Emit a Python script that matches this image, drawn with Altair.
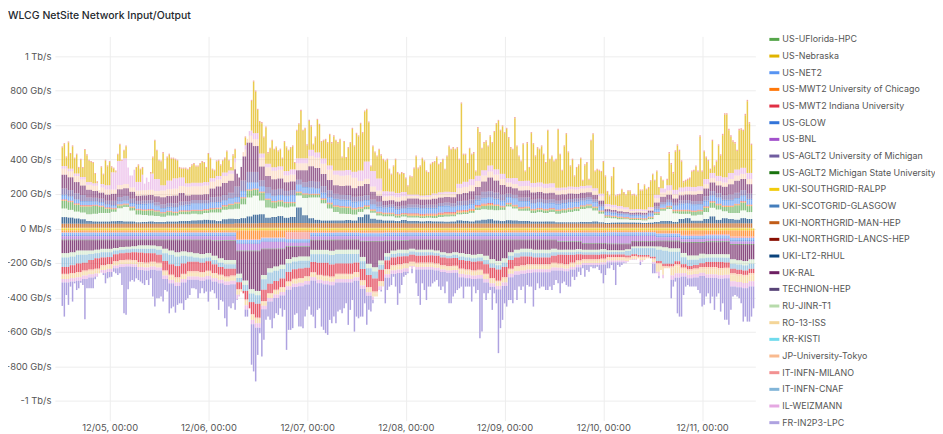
import altair as alt
import pandas as pd

alt.data_transformers.disable_max_rows()

SITES = ["US-UFlorida-HPC","US-Nebraska","US-NET2","US-MWT2 University of Chicago","US-MWT2 Indiana University","US-GLOW","US-BNL","US-AGLT2 University of Michigan","US-AGLT2 Michigan State University","UKI-SOUTHGRID-RALPP","UKI-SCOTGRID-GLASGOW","UKI-NORTHGRID-MAN-HEP","UKI-NORTHGRID-LANCS-HEP","UKI-LT2-RHUL","UK-RAL","TECHNION-HEP","RU-JINR-T1","RO-13-ISS","KR-KISTI","JP-University-Tokyo","IT-INFN-MILANO","IT-INFN-CNAF","IL-WEIZMANN","FR-IN2P3-LPC"]
COLORS = ["#56a64b","#e0b400","#5794f2","#ff780a","#e02f44","#3274d9","#a352cc","#705da0","#19730e","#f2cc0c","#447ebc","#c15c17","#890f02","#0a437c","#6d1f62","#584477","#b7dbab","#f4d598","#70dbed","#f9ba8f","#f29191","#82b5d8","#e5a8e2","#aea2e0"]

# Total height of every bar (Gb/s), read bar by bar
top_total = [476,495,418,505,438,482,411,434,357,405,357,461,430,399,391,386,322,274,222,361,318,399,366,391,361,353,337,434,492,399,457,482,353,308,308,341,357,372,347,357,260,295,270,328,418,515,457,399,395,443,347,418,434,411,411,405,399,357,353,353,353,347,357,372,380,366,366,380,391,386,357,438,411,347,341,395,399,372,399,411,453,399,357,430,463,318,295,357,443,534,520,565,746,858,800,694,623,617,534,592,443,468,515,463,476,453,463,411,507,476,457,472,482,386,573,611,688,573,584,488,630,598,492,534,636,607,507,515,520,501,549,501,540,515,501,520,418,507,415,472,
501,584,482,555,540,613,559,684,694,621,366,482,447,424,463,430,405,395,405,347,318,366,405,328,318,328,322,295,251,308,303,353,424,353,366,411,395,337,328,376,386,391,418,376,386,405,347,424,482,463,472,463,472,405,731,434,434,380,468,434,443,337,588,559,468,501,511,482,540,501,565,611,630,573,598,559,584,530,472,463,646,482,424,395,495,337,501,357,559,495,424,472,463,482,434,386,573,405,
424,395,405,578,434,341,482,553,447,366,405,308,357,372,411,283,372,386,289,515,553,337,347,341,334,391,308,218,193,303,357,193,199,202,231,212,199,222,222,199,202,193,264,226,226,256,231,241,280,318,283,337,241,303,283,231,289,443,380,328,453,488,457,395,276,283,289,295,337,341,366,337,540,337,453,418,399,347,515,366,395,488,430,549,669,669,578,540,511,501,457,578,582,573,665,746,617,492]
bottom_total = [449,511,386,443,337,424,318,357,347,314,328,526,347,347,347,347,295,280,260,256,270,318,289,283,280,251,260,270,260,328,492,501,353,308,299,308,289,299,308,318,328,299,328,289,395,453,405,405,395,424,357,366,492,463,453,488,443,434,434,472,415,405,386,347,347,353,405,376,347,376,366,424,366,357,376,405,472,415,424,521,569,453,463,434,472,415,395,366,376,511,511,463,790,829,887,733,607,742,646,530,511,530,578,521,492,501,463,511,472,704,588,588,578,501,492,569,569,578,511,472,453,501,511,578,472,463,569,588,607,617,530,549,511,549,482,472,492,463,434,559,472,
415,598,511,521,511,511,434,559,472,482,434,395,395,357,366,337,434,357,337,328,280,337,443,376,328,280,270,260,222,260,222,318,391,443,318,357,415,337,337,318,308,299,337,357,337,376,308,434,434,395,376,357,347,337,405,337,337,337,424,337,376,357,636,598,376,415,376,357,472,376,434,723,578,530,434,453,415,415,434,357,415,337,357,337,434,328,337,337,453,357,318,347,337,337,357,357,337,357,
328,299,318,376,318,308,328,337,337,280,299,280,251,270,231,280,241,251,222,231,231,222,241,260,318,270,231,231,212,241,328,212,222,212,202,202,193,183,183,183,183,173,212,193,183,173,173,173,260,260,260,289,241,289,231,231,231,405,337,308,492,511,511,386,337,328,337,337,337,337,357,376,453,443,395,376,434,395,472,395,376,482,434,530,530,559,472,395,386,395,405,434,540,511,540,540,511,463]

# Layers read at 1.5-hour, 6-hour or daily steps, from zero outward
up_ralpp = [4,4,4,4,4,4,4,4]
up_lancs = [2,2,2,3,3,2,2,2]
up_man = [22,22,22,22,22,22,22,24,26,26,24,24,24,24,22,22,22,22,22,22,22,22,20,20,22,24,24,24]
up_rhul = [38,35,30,25,15,12,12,12,14,15,12,12,8,10,12,10,10,12,12,15,15,18,20,22,20,15,25,28,25,30,40,50,50,30,35,40,30,35,90,45,30,20,15,15,15,15,18,15,35,50,25,20,15,15,12,18,15,15,12,14,12,12,10,12,18,15,12,18,22,25,18,15,20,18,15,15,12,12,12,12,8,8,8,8,10,10,12,8,6,8,8,8,8,8,6,8,10,15,15,10,25,30,15,15,25,40,20,30,25,20,30,25]
up_jinr = [50,45,40,40,40,45,50,50,55,75,85,65,45,40,35,35,30,35,35,40,40,40,35,40,45,50,55,55,60,80,110,110,80,60,50,55,60,60,70,100,120,130,100,70,50,40,35,35,30,30,35,25,25,25,20,20,20,20,20,20,20,25,30,30,35,40,50,60,60,55,60,65,80,70,60,60,50,55,50,55,50,55,60,65,75,80,65,50,30,25,20,20,15,15,15,20,40,60,70,50,30,25,30,35,40,50,60,40,35,40,45,40]
up_florida = [45,45,40,35,45,45,35,25,15,15,12,15,25,25,30,25,20,20,15,15,15,15,18,15,18,20,20,25,30,35,40,35,45,45,35,30,25,20,15,20,15,15,20,25,30,35,35,30,20,15,12,12,12,12,12,12,10,10,10,10,12,12,12,10,10,10,10,15,20,25,25,15,12,12,12,15,15,15,15,15,15,15,15,15,15,15,15,12,8,8,8,6,6,6,6,8,10,10,10,12,15,15,20,20,25,30,25,25,35,45,45,35]
up_chicago = [4,4,4,5,8,5,4,5]
up_indiana = [4,4,3,4,6,4,3,4]
up_net2 = [20,18,15,15,15,12,12,10,8,8,10,12,20,25,25,20,15,15,18,20,25,30,30,25,25,25,20,25,25,30,35,30,25,25,25,25,30,35,35,30,30,25,25,25,30,30,30,28,25,22,20,22,22,25,22,20,25,25,25,25,25,30,30,25,20,20,20,22,25,25,25,22,25,30,28,25,25,25,25,22,25,25,25,22,20,20,20,15,10,10,8,8,8,8,8,10,12,12,12,18,28,30,28,25,25,25,28,25,25,25,25,25]
up_glow = [8,8,6,8,8,8,8,8]
up_aglt2 = [35,20,25,18,22,18,30,60,35,28,38,28,28,14,18,18,25,35,20,20,18,14,5,5,14,18,25,30]
up_ral = [80,75,65,55,45,40,35,35,40,45,45,40,30,30,30,35,40,40,45,50,35,30,30,35,50,60,70,70,100,140,170,150,80,65,60,60,50,50,55,70,85,80,70,60,50,50,55,50,60,65,45,35,25,25,28,30,35,35,32,30,35,32,32,35,40,45,48,50,60,80,70,55,40,38,40,42,42,40,38,38,35,32,32,28,30,28,25,20,12,10,10,8,8,10,10,12,22,30,30,25,30,32,38,40,45,50,45,50,60,70,65,55]
up_tokyo = [35,30,25,30,40,50,40,40,50,40,60,60,30,25,15,20,35,35,25,30,25,25,15,10,25,20,25,30]
up_weizmann = [15,15,15,15,15,15,20,25,100,140,150,120,50,90,95,70,30,50,60,50,20,20,20,20,20,20,20,20,25,25,30,35,25,20,20,20,25,30,30,30,35,30,30,25,25,30,30,35,60,100,90,70,30,25,25,25,8,8,8,10,10,10,10,10,25,30,35,30,30,35,30,30,25,35,30,30,25,25,25,25,15,15,15,15,15,15,15,15,15,15,15,12,10,10,10,10,20,25,30,25,25,25,25,25,30,30,30,30,35,35,35,35]
up_milano = [6,6,6,6,6,6,6,8]

dn_ralpp = [12,12,12,12,12,12,12,12]
dn_chicago = [10,10,10,10,10,10,10,50,40,10,10,10,12,10,10,10,10,10,10,10,10,10,8,8,15,25,20,35]
dn_milano = [3,3,3,3,3,3,3,5,5,40,4,3,3,3,3,3,3,3,3,3,3,3,3,3,4,6,8,8]
dn_net2 = [12,12,12,12,12,12,12,14,12,12,12,12,12,12,12,12,12,12,12,12,12,12,12,12,12,12,12,12]
dn_glow = [8,8,8,8,8,8,8,8,8,8,8,8]
dn_bnl = [20,20,20,20,20,20,25,40,40,22,20,20,25,25,20,20,20,20,20,20,30,40,45,30,20,15,15,15]
dn_msu = [3,3,3,3,3,3,3,4]
dn_ral = [75,70,60,60,60,55,50,50,45,40,38,35,30,30,30,35,50,60,70,65,70,75,80,75,85,100,110,110,130,170,220,230,150,110,100,90,70,60,55,55,55,55,55,60,55,55,55,55,90,130,150,110,70,55,50,50,50,55,55,55,60,70,75,70,75,80,85,80,90,110,120,105,70,55,50,50,55,55,55,50,45,45,45,42,35,35,35,32,35,35,35,30,28,28,28,28,30,35,40,40,60,75,75,65,70,70,70,70,85,90,95,85]
dn_jinr = [25,20,15,20,25,25,25,25,25,25,25,25,25,20,15,15,20,25,20,20,15,15,10,10,20,25,20,25]
dn_cnaf = [55,50,50,45,35,30,30,28,22,20,20,20,22,25,25,30,45,55,55,45,30,25,25,22,25,25,25,25,25,35,50,50,60,65,60,55,50,45,45,40,45,50,50,55,55,55,55,50,45,40,40,30,22,20,20,18,20,20,20,18,15,15,15,18,20,20,20,22,25,25,25,25,25,25,25,25,25,25,25,20,15,15,15,15,15,15,15,15,15,15,15,25,35,40,40,50,65,75,70,55,40,35,30,30,25,25,25,28,30,30,30,30]
dn_indiana = [40,45,50,45,55,60,45,40,40,40,40,45,55,55,50,45,55,60,65,60,55,55,55,55,50,45,45,40,40,50,70,80,65,55,50,50,55,55,55,50,60,70,75,70,60,60,60,55,65,70,75,65,50,45,45,40,40,40,40,42,45,45,45,45,50,50,50,50,55,60,65,60,50,50,50,45,40,40,40,40,50,55,45,35,25,25,25,25,15,15,15,12,10,10,10,10,12,15,15,18,20,20,20,22,30,30,35,30,25,25,25,25]
dn_tokyo = [10,10,8,10,10,10,10,12]
dn_ro13 = [20,18,15,18,20,20,20,25,20,20,20,20,20,20,15,15,20,20,20,18,15,12,10,10,40,20,30,35]
dn_weiz = [20,18,15,18,20,20,20,25,20,20,20,20,20,20,15,15,20,20,20,18,15,12,10,10,25,20,20,30]

# site, values, fill opacity: listed from zero outward; the outer layer takes what is left of the total
UP = [("UKI-SOUTHGRID-RALPP",up_ralpp,.8),("UKI-NORTHGRID-LANCS-HEP",up_lancs,.7),("UKI-NORTHGRID-MAN-HEP",up_man,.8),("UKI-LT2-RHUL",up_rhul,.75),("RU-JINR-T1",up_jinr,.18),("US-UFlorida-HPC",up_florida,.7),("US-MWT2 University of Chicago",up_chicago,.7),("US-MWT2 Indiana University",up_indiana,.7),("US-NET2",up_net2,.75),("US-GLOW",up_glow,.7),("US-AGLT2 University of Michigan",up_aglt2,.75),("UK-RAL",up_ral,.7),("JP-University-Tokyo",up_tokyo,.45),("IL-WEIZMANN",up_weizmann,.65)]
DOWN = [("UKI-SOUTHGRID-RALPP",dn_ralpp,.85),("US-MWT2 University of Chicago",dn_chicago,.75),("IT-INFN-MILANO",dn_milano,.85),("US-NET2",dn_net2,.7),("US-GLOW",dn_glow,.7),("US-BNL",dn_bnl,.7),("US-AGLT2 Michigan State University",dn_msu,.85),("UK-RAL",dn_ral,.8),("RU-JINR-T1",dn_jinr,.5),("IT-INFN-CNAF",dn_cnaf,.75),("US-MWT2 Indiana University",dn_indiana,.8),("JP-University-Tokyo",dn_tokyo,.7),("RO-13-ISS",dn_ro13,.8),("IL-WEIZMANN",dn_weiz,.75)]

start = pd.Timestamp("2023-12-04 12:30:00", tz="UTC")
rows = []

def add(totals, layers, outer, sign, cap, a_out):
    for i, total in enumerate(totals):
        t = (start + pd.Timedelta(minutes=30 * i)).isoformat()
        left = total
        o = 0
        for site, vals, a in layers:
            v = min(vals[i * len(vals) // len(totals)], left)
            left -= v
            if v > 0:
                rows.append((t, site, sign * v, o, a))
            o += 1
        c = min(cap[i * len(cap) // len(totals)], left) if outer[1] else 0
        rows.append((t, outer[0], sign * (left - c), o, a_out))
        if c > 0:
            rows.append((t, outer[1], sign * c, o + 1, .85))

add(top_total, UP, ("US-Nebraska", "IT-INFN-MILANO"), 1, up_milano, .7)
add(bottom_total, DOWN, ("FR-IN2P3-LPC", None), -1, [0], 1)
df = pd.DataFrame(rows, columns=["t", "site", "v", "o", "a"])

GRID = "#ededed"
TICKS = [-1000, -800, -600, -400, -200, 0, 200, 400, 600, 800, 1000]
LABEL_EXPR = "datum.value==0?'0 Mb/s':(abs(datum.value)>=1000?(datum.value/1000)+' Tb/s':datum.value+' Gb/s')"
DAYS = ["2023-12-%02dT00:00:00Z" % d for d in range(5, 12)]

chart = alt.Chart(df, title=alt.TitleParams("WLCG NetSite Network Input/Output", anchor="start", frame="group", dx=-47, offset=12, font="Inter", fontSize=10.5, fontWeight=500, color="#24292e")).mark_bar(width=1.5).encode(
    x=alt.X("t:T", title=None, scale=alt.Scale(type="utc", domain=["2023-12-04T11:55:00Z", "2023-12-11T11:44:00Z"]),
            axis=alt.Axis(values=DAYS, format="%m/%d, %H:%M", labelFont="Inter", labelFontSize=9.4, labelColor="#555", grid=True, gridColor=GRID, tickSize=0, domain=False, labelPadding=3, labelFlush=False)),
    y=alt.Y("v:Q", title=None, stack="zero", scale=alt.Scale(domain=[-1114, 1114], nice=False),
            axis=alt.Axis(values=TICKS, labelExpr=LABEL_EXPR, labelFont="Inter", labelFontSize=9.4, labelColor="#555", grid=True, gridColor=GRID, tickSize=0, domain=False, labelPadding=4)),
    color=alt.Color("site:N", scale=alt.Scale(domain=SITES, range=COLORS), sort=SITES,
                    legend=alt.Legend(title=None, orient="none", legendX=715, legendY=-3, symbolType="M-1,-0.3H1V0.3H-1Z", symbolSize=100, symbolOpacity=1, labelFont="Inter", labelFontSize=8.9, labelColor="#555", labelOffset=2, rowPadding=5.7, labelLimit=200, columns=1, values=SITES)),
    opacity=alt.Opacity("a:Q", scale=None, legend=None),
    order=alt.Order("o:Q"),
    tooltip=alt.value(None),
).properties(width=702, height=385, padding={"left": 47, "top": 28, "right": 180, "bottom": 15},
             autosize=alt.AutoSizeParams(type="none")).configure_view(stroke=None)

chart.save("out.html", embed_options={"renderer": "svg", "actions": False})
